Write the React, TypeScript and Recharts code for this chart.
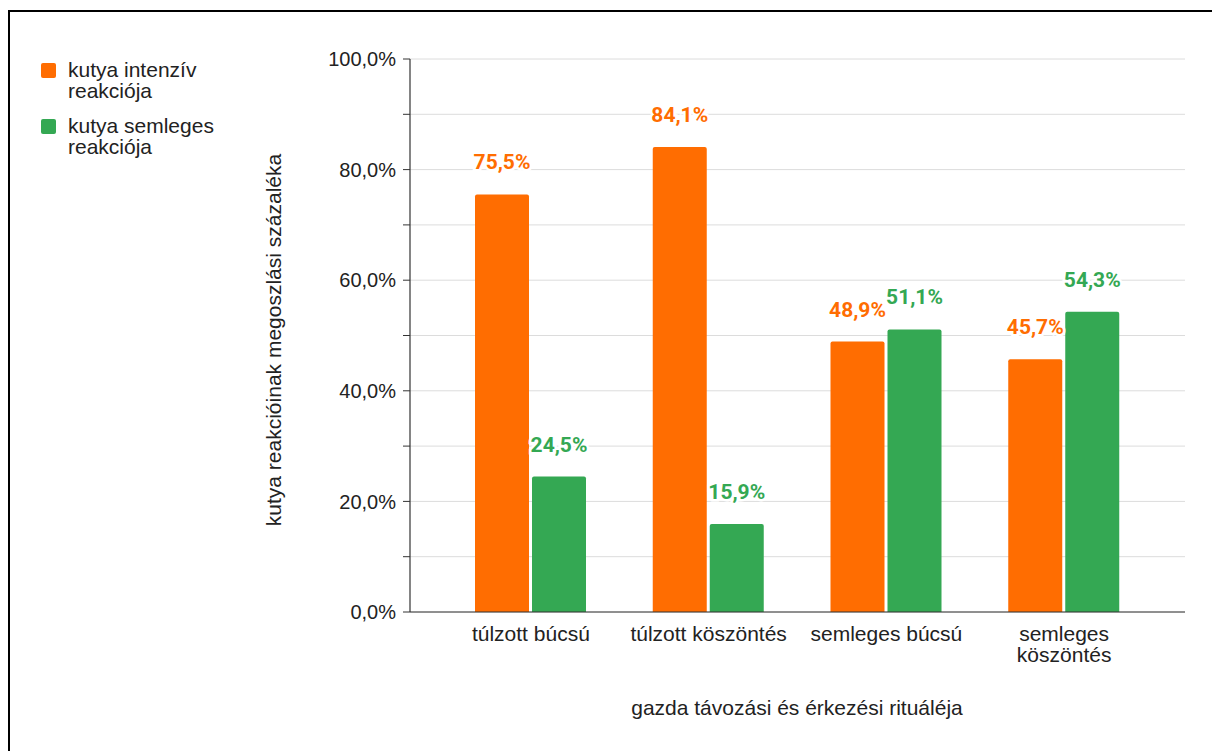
import React from 'react';
import { BarChart, Bar, XAxis, YAxis, CartesianGrid, LabelList, Label } from 'recharts';

const categories = ['túlzott búcsú', 'túlzott köszöntés', 'semleges búcsú', 'semleges köszöntés'];
const intenseValues = [75.5, 84.1, 48.9, 45.7];
const neutralValues = [24.5, 15.9, 51.1, 54.3];
const seriesNames = ['kutya intenzív reakciója', 'kutya semleges reakciója'];
const seriesColors = ['#FF6D01', '#34A853'];
const yTicks = [0, 10, 20, 30, 40, 50, 60, 70, 80, 90, 100];
const yAxisTitle = 'kutya reakcióinak megoszlási százaléka';
const xAxisTitle = 'gazda távozási és érkezési rituáléja';

const data = categories.map((c, i) => ({ category: c, intense: intenseValues[i], neutral: neutralValues[i] }));

const ARIAL = '"Liberation Sans", Arial, sans-serif';
const fmtPct = (v: number) => `${v.toFixed(1).replace('.', ',')}%`;
const MAX_CHARS = 17;

const wrapLabel = (s: string): string[] => {
  if (s.length <= MAX_CHARS) return [s];
  const idx = s.lastIndexOf(' ');
  return idx > 0 ? [s.slice(0, idx), s.slice(idx + 1)] : [s];
};

const XTick = (props: any) => {
  const { x, y, payload } = props;
  const lines = wrapLabel(String(payload.value));
  return (
    <text x={x} y={y + 29} textAnchor="middle" fill="#222" fontSize={21} fontFamily={ARIAL}>
      {lines.map((l, i) => (
        <tspan key={i} x={x} dy={i === 0 ? 0 : 21}>
          {l}
        </tspan>
      ))}
    </text>
  );
};

const makeLabel = (color: string) => (props: any) => {
  const { x, y, width, value } = props;
  return (
    <text
      x={Number(x) + Number(width) / 2}
      y={Number(y) - 25}
      textAnchor="middle"
      fill={color}
      stroke="#fff"
      strokeWidth={5}
      paintOrder="stroke"
      fontFamily="Roboto, sans-serif"
      fontWeight="bold"
      fontSize={21}
    >
      {fmtPct(Number(value))}
    </text>
  );
};

export default function App() {
  return (
    <div>
      <style>{'html,body{overflow:hidden;}'}</style>
      <div
        style={{
          position: 'absolute',
          left: 8,
          top: 10,
          width: 1300,
          height: 900,
          border: '2px solid #000',
          boxSizing: 'border-box',
        }}
      />
      <div style={{ position: 'absolute', left: 0, top: 0, width: 1212, height: 751 }}>
        <BarChart
          width={1212}
          height={751}
          data={data}
          margin={{ top: 59, right: 27, bottom: 39, left: 0 }}
          barGap={3}
          barSize={54}
        >
          <CartesianGrid vertical={false} stroke="#dcdcdc" strokeWidth={1} />
          <XAxis
            dataKey="category"
            height={100}
            padding={{ left: 32, right: 32 }}
            tickLine={false}
            tickSize={0}
            tickMargin={0}
            axisLine={{ stroke: '#333', strokeWidth: 1.2 }}
            tick={<XTick />}
            interval={0}
          >
            <Label
              content={() => (
                <text x={797} y={715} textAnchor="middle" fill="#222" fontSize={21} fontFamily={ARIAL}>
                  {xAxisTitle}
                </text>
              )}
            />
          </XAxis>
          <YAxis
            width={410}
            domain={[0, 100]}
            ticks={yTicks}
            interval={0}
            tickSize={7}
            tickMargin={7}
            axisLine={{ stroke: '#333', strokeWidth: 1.2 }}
            tickLine={{ stroke: '#333' }}
            tick={{ fill: '#222', fontSize: 20, fontFamily: ARIAL }}
            tickFormatter={(v: number) => (v % 20 === 0 ? fmtPct(v) : '')}
          >
            <Label
              content={() => (
                <text
                  x={273}
                  y={340}
                  transform="rotate(-90 273 340)"
                  textAnchor="middle"
                  dominantBaseline="central"
                  fill="#222"
                  fontSize={21}
                  fontFamily={ARIAL}
                >
                  {yAxisTitle}
                </text>
              )}
            />
          </YAxis>
          <Bar dataKey="intense" name={seriesNames[0]} fill={seriesColors[0]} radius={[2, 2, 0, 0]} isAnimationActive={false}>
            <LabelList dataKey="intense" content={makeLabel(seriesColors[0])} />
          </Bar>
          <Bar dataKey="neutral" name={seriesNames[1]} fill={seriesColors[1]} radius={[2, 2, 0, 0]} isAnimationActive={false}>
            <LabelList dataKey="neutral" content={makeLabel(seriesColors[1])} />
          </Bar>
        </BarChart>
      </div>
      <div style={{ position: 'absolute', left: 41, top: 59, fontFamily: ARIAL, fontSize: 21, color: '#222' }}>
        {seriesNames.map((name, i) => (
          <div key={name} style={{ position: 'relative', height: 56 }}>
            <div
              style={{
                position: 'absolute',
                left: 0,
                top: 4,
                width: 15,
                height: 15,
                borderRadius: 2,
                background: seriesColors[i],
              }}
            />
            <div style={{ position: 'absolute', left: 27, top: 0, width: 160, lineHeight: '21px' }}>{name}</div>
          </div>
        ))}
      </div>
    </div>
  );
}
